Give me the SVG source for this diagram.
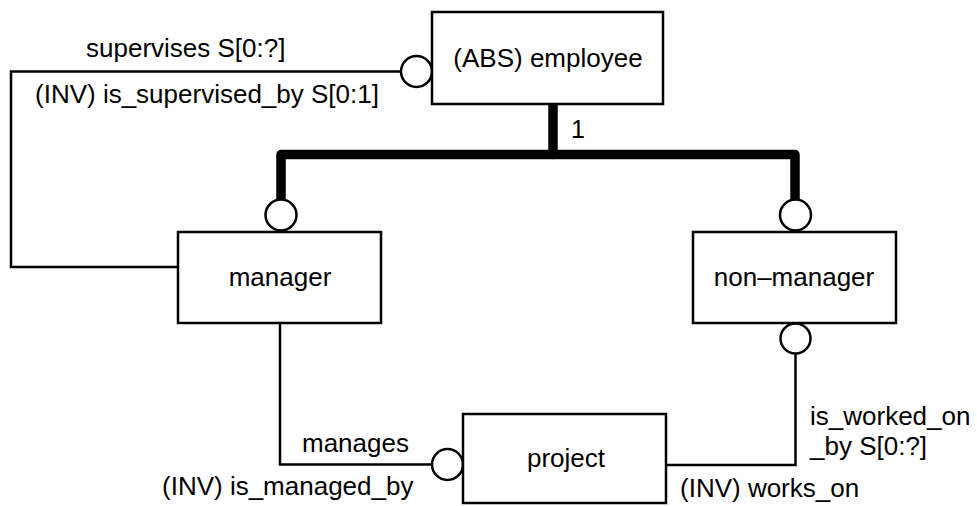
<svg xmlns="http://www.w3.org/2000/svg" width="977" height="506" viewBox="0 0 977 506">
<style>
.box{fill:#fff;stroke:#000;stroke-width:2.5}
.ln{fill:none;stroke:#000;stroke-width:2.5}
.thick{fill:none;stroke:#000;stroke-width:9.5;stroke-linejoin:round;stroke-linecap:round}
.circ{fill:#fff;stroke:#000;stroke-width:2.5}
text{font-family:"Liberation Sans",Arial,sans-serif;font-size:26px;fill:#000}
</style>
<rect width="977" height="506" fill="#fff"/>
<g id="connectors">
<polyline class="ln" points="401,71.5 11,71.5 11,267 179,267"/>
<polyline class="thick" points="553,104 553,154.5"/>
<polyline class="thick" points="281,201 281,154.5 795,154.5 795,201"/>
<polyline class="ln" points="280,323 280,464.5 432,464.5"/>
<polyline class="ln" points="795.5,353 795.5,465 666,465"/>
<circle class="circ" cx="416.5" cy="71.5" r="15.5"/>
<circle class="circ" cx="281" cy="215" r="15.5"/>
<circle class="circ" cx="795.5" cy="215" r="15.5"/>
<circle class="circ" cx="795.5" cy="338.5" r="15"/>
<circle class="circ" cx="447.5" cy="464.5" r="15.5"/>
<text x="86" y="57">supervises S[0:?]</text>
<text x="35" y="103">(INV) is_supervised_by S[0:1]</text>
<text x="571" y="138" style="font-size:25px">1</text>
<text x="302" y="452">manages</text>
<text x="162" y="495">(INV) is_managed_by</text>
<text x="810" y="425">is_worked_on</text>
<text x="810" y="455">_by S[0:?]</text>
<text x="680" y="497">(INV) works_on</text>
</g>
<g id="employee">
<rect class="box" x="432" y="12" width="231" height="92"/>
<text x="548" y="67" text-anchor="middle">(ABS) employee</text>
</g>
<g id="manager">
<rect class="box" x="178" y="232" width="203" height="91"/>
<text x="280" y="286" text-anchor="middle">manager</text>
</g>
<g id="non-manager">
<rect class="box" x="693" y="232" width="203" height="91"/>
<text x="794" y="286" text-anchor="middle">non–manager</text>
</g>
<g id="project">
<rect class="box" x="463" y="414" width="203" height="89"/>
<text x="566" y="467" text-anchor="middle">project</text>
</g>
</svg>
